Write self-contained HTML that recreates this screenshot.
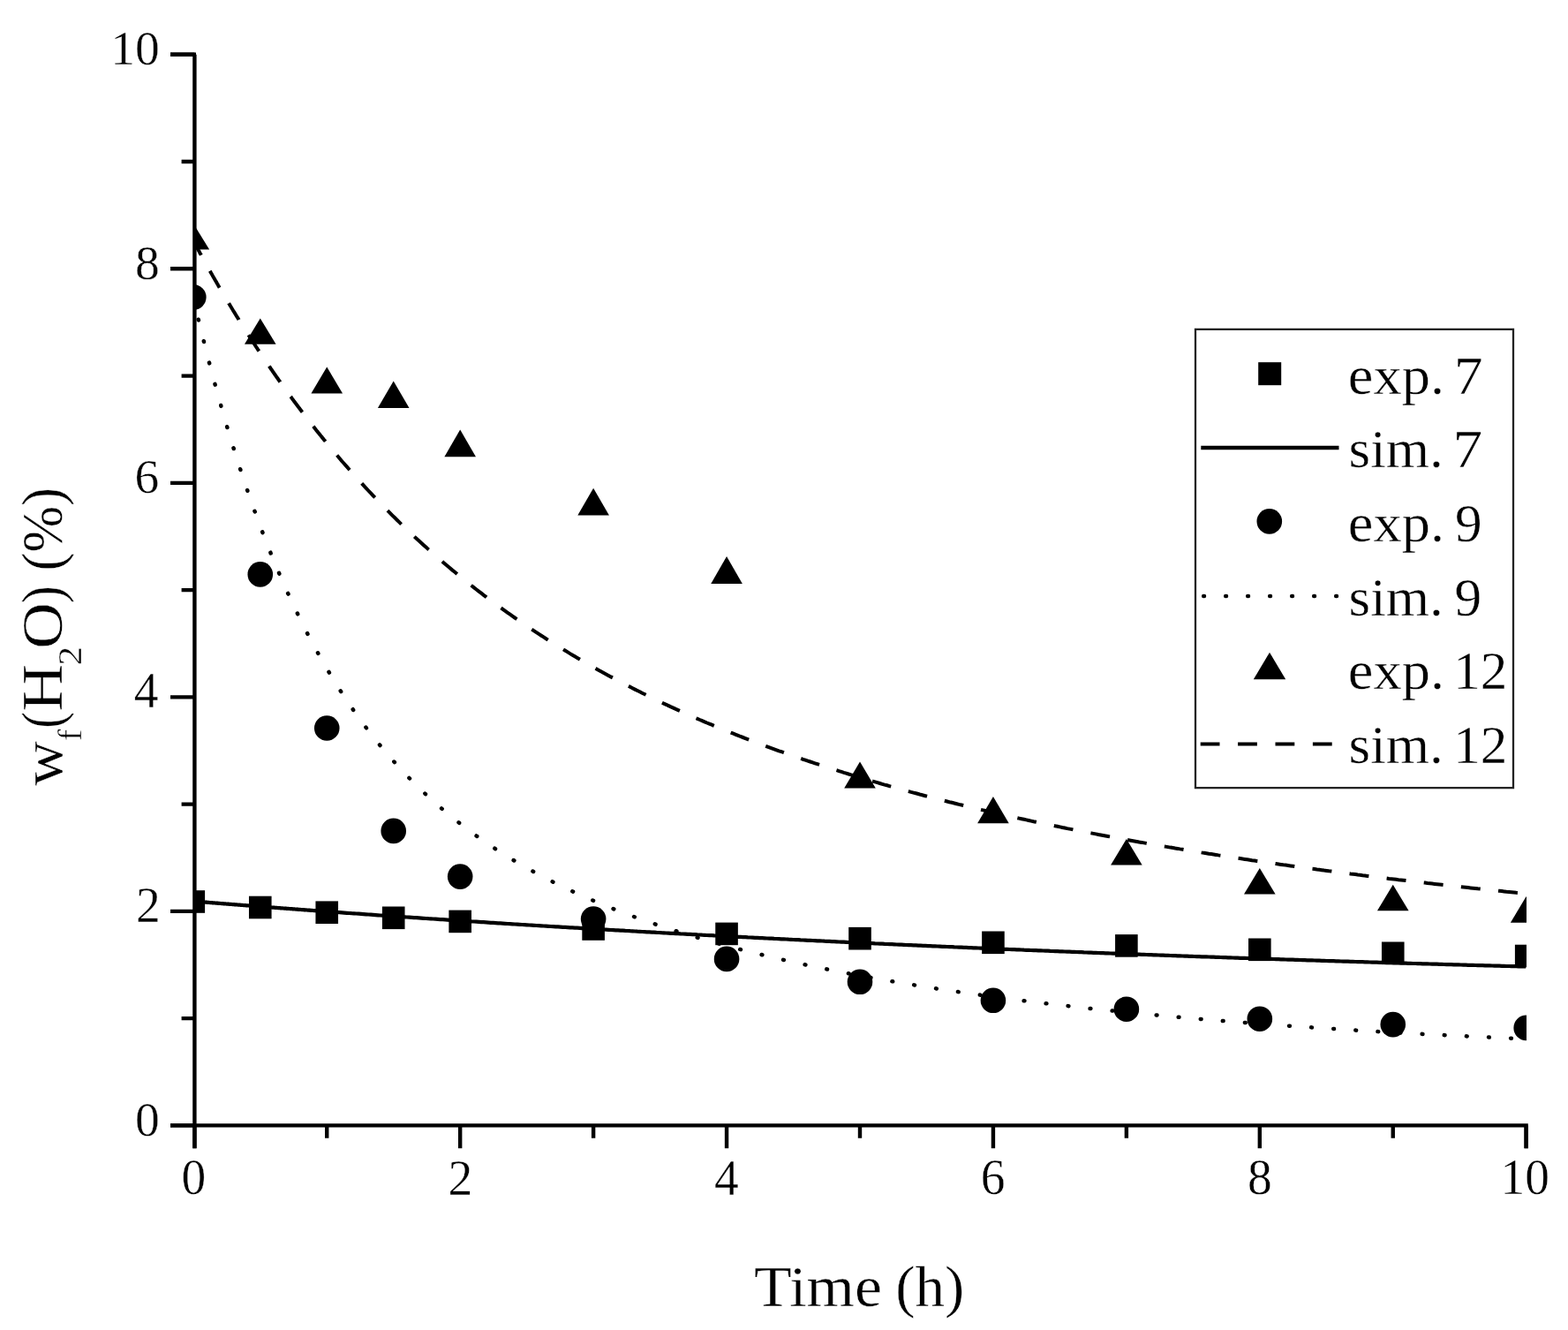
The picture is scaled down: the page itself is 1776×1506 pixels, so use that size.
<!DOCTYPE html>
<html><head><meta charset="utf-8"><title>Water content vs time</title>
<style>html,body{margin:0;padding:0;background:#fff;}svg{display:block;}</style></head>
<body>
<svg width="1776" height="1506" viewBox="0 0 1776 1506" font-family="Liberation Serif, serif" fill="#000">
<style>text{stroke:#fff;stroke-width:0.4px;paint-order:normal;}</style>
<rect width="1776" height="1506" fill="#fff"/>
<defs><clipPath id="pc"><rect x="220.5" y="0" width="1508.5" height="1274.4"/></clipPath></defs>
<path clip-path="url(#pc)" d="M220.2,1020.6 220.6,1020.7 221.0,1020.7 221.3,1020.7 221.7,1020.7 222.1,1020.8 222.5,1020.8 222.8,1020.8 223.2,1020.9 223.6,1020.9 224.0,1020.9 224.4,1021.0 224.7,1021.0 225.1,1021.0 225.5,1021.0 225.9,1021.1 226.2,1021.1 226.6,1021.1 227.0,1021.2 227.4,1021.2 227.8,1021.2 228.1,1021.3 228.5,1021.3 228.9,1021.3 229.3,1021.4 229.6,1021.4 230.0,1021.4 230.4,1021.4 230.8,1021.5 231.2,1021.5 231.5,1021.5 231.9,1021.6 232.3,1021.6 232.7,1021.6 233.1,1021.7 233.4,1021.7 233.8,1021.7 234.2,1021.7 234.6,1021.8 234.9,1021.8 235.3,1021.8 235.7,1021.9 236.1,1021.9 236.5,1021.9 236.8,1022.0 237.2,1022.0 237.6,1022.0 238.0,1022.1 238.3,1022.1 238.7,1022.1 239.1,1022.1 239.5,1022.2 239.9,1022.2 240.2,1022.2 240.6,1022.3 241.0,1022.3 241.4,1022.3 241.7,1022.4 242.1,1022.4 242.5,1022.4 242.9,1022.4 243.3,1022.5 243.6,1022.5 244.0,1022.5 244.4,1022.6 244.8,1022.6 245.1,1022.6 245.5,1022.7 245.9,1022.7 246.3,1022.7 246.7,1022.7 247.0,1022.8 247.4,1022.8 247.8,1022.8 248.2,1022.9 248.5,1022.9 248.9,1022.9 249.3,1023.0 249.7,1023.0 250.1,1023.0 250.4,1023.0 250.8,1023.1 251.2,1023.1 251.6,1023.1 251.9,1023.2 252.3,1023.2 252.7,1023.2 253.1,1023.3 253.5,1023.3 253.8,1023.3 254.2,1023.3 254.6,1023.4 255.0,1023.4 255.3,1023.4 255.7,1023.5 256.1,1023.5 256.5,1023.5 256.9,1023.6 257.2,1023.6 257.6,1023.6 258.0,1023.6 258.4,1023.7 258.8,1023.7 259.1,1023.7 259.5,1023.8 259.9,1023.8 260.3,1023.8 260.6,1023.9 261.0,1023.9 261.4,1023.9 261.8,1023.9 262.2,1024.0 262.5,1024.0 262.9,1024.0 263.3,1024.1 263.7,1024.1 264.0,1024.1 264.4,1024.1 264.8,1024.2 265.2,1024.2 265.6,1024.2 265.9,1024.3 266.3,1024.3 266.7,1024.3 267.1,1024.4 267.4,1024.4 267.8,1024.4 268.2,1024.4 268.6,1024.5 269.0,1024.5 269.3,1024.5 269.7,1024.6 270.1,1024.6 270.5,1024.6 270.8,1024.7 271.2,1024.7 271.6,1024.7 272.0,1024.7 272.4,1024.8 272.7,1024.8 273.1,1024.8 273.5,1024.9 273.9,1024.9 274.2,1024.9 274.6,1024.9 275.0,1025.0 275.4,1025.0 275.8,1025.0 276.1,1025.1 276.5,1025.1 276.9,1025.1 277.3,1025.2 277.6,1025.2 278.0,1025.2 278.4,1025.2 278.8,1025.3 279.2,1025.3 279.5,1025.3 279.9,1025.4 280.3,1025.4 280.7,1025.4 281.0,1025.4 281.4,1025.5 281.8,1025.5 282.2,1025.5 282.6,1025.6 282.9,1025.6 283.3,1025.6 283.7,1025.7 284.1,1025.7 284.5,1025.7 284.8,1025.7 285.2,1025.8 285.6,1025.8 286.0,1025.8 286.3,1025.9 286.7,1025.9 287.1,1025.9 287.5,1025.9 287.9,1026.0 288.2,1026.0 288.6,1026.0 289.0,1026.1 289.4,1026.1 289.7,1026.1 290.1,1026.1 290.5,1026.2 290.9,1026.2 291.3,1026.2 291.6,1026.3 292.0,1026.3 292.4,1026.3 292.8,1026.4 293.1,1026.4 293.5,1026.4 293.9,1026.4 294.3,1026.5 294.7,1026.5 295.0,1026.5 295.4,1026.6 295.8,1026.6 296.2,1026.6 296.5,1026.6 296.9,1026.7 297.3,1026.7 297.7,1026.7 298.1,1026.8 298.4,1026.8 298.8,1026.8 299.2,1026.8 299.6,1026.9 299.9,1026.9 300.3,1026.9 300.7,1027.0 301.1,1027.0 301.5,1027.0 301.8,1027.0 302.2,1027.1 302.6,1027.1 303.0,1027.1 303.3,1027.2 303.7,1027.2 304.1,1027.2 304.5,1027.2 304.9,1027.3 305.2,1027.3 305.6,1027.3 306.0,1027.4 306.4,1027.4 306.7,1027.4 307.1,1027.5 307.5,1027.5 307.9,1027.5 308.3,1027.5 308.6,1027.6 309.0,1027.6 309.4,1027.6 309.8,1027.7 310.2,1027.7 310.5,1027.7 310.9,1027.7 311.3,1027.8 311.7,1027.8 312.0,1027.8 312.4,1027.9 312.8,1027.9 313.2,1027.9 313.6,1027.9 313.9,1028.0 314.3,1028.0 314.7,1028.0 315.1,1028.1 315.4,1028.1 315.8,1028.1 316.2,1028.1 316.6,1028.2 317.0,1028.2 317.3,1028.2 317.7,1028.3 318.1,1028.3 318.5,1028.3 318.8,1028.3 319.2,1028.4 319.6,1028.4 320.0,1028.4 320.4,1028.5 320.7,1028.5 321.1,1028.5 321.5,1028.5 321.9,1028.6 322.2,1028.6 322.6,1028.6 323.0,1028.7 323.4,1028.7 323.8,1028.7 324.1,1028.7 324.5,1028.8 324.9,1028.8 325.3,1028.8 325.6,1028.9 326.0,1028.9 326.4,1028.9 326.8,1028.9 327.2,1029.0 327.5,1029.0 327.9,1029.0 328.3,1029.0 328.7,1029.1 329.0,1029.1 329.4,1029.1 329.8,1029.2 330.2,1029.2 330.6,1029.2 330.9,1029.2 331.3,1029.3 331.7,1029.3 332.1,1029.3 332.4,1029.4 332.8,1029.4 333.2,1029.4 333.6,1029.4 334.0,1029.5 334.3,1029.5 334.7,1029.5 335.1,1029.6 335.5,1029.6 335.9,1029.6 336.2,1029.6 336.6,1029.7 337.0,1029.7 337.4,1029.7 337.7,1029.8 338.1,1029.8 338.5,1029.8 338.9,1029.8 339.3,1029.9 339.6,1029.9 340.0,1029.9 340.4,1030.0 340.8,1030.0 341.1,1030.0 341.5,1030.0 341.9,1030.1 342.3,1030.1 342.7,1030.1 343.0,1030.1 343.4,1030.2 343.8,1030.2 344.2,1030.2 344.5,1030.3 344.9,1030.3 345.3,1030.3 345.7,1030.3 346.1,1030.4 346.4,1030.4 346.8,1030.4 347.2,1030.5 347.6,1030.5 347.9,1030.5 348.3,1030.5 348.7,1030.6 349.1,1030.6 349.5,1030.6 349.8,1030.7 350.2,1030.7 350.6,1030.7 351.0,1030.7 351.3,1030.8 351.7,1030.8 352.1,1030.8 352.5,1030.8 352.9,1030.9 353.2,1030.9 353.6,1030.9 354.0,1031.0 354.4,1031.0 354.7,1031.0 355.1,1031.0 355.5,1031.1 355.9,1031.1 356.3,1031.1 356.6,1031.2 357.0,1031.2 357.4,1031.2 357.8,1031.2 358.1,1031.3 358.5,1031.3 358.9,1031.3 359.3,1031.3 359.7,1031.4 360.0,1031.4 360.4,1031.4 360.8,1031.5 361.2,1031.5 361.6,1031.5 361.9,1031.5 362.3,1031.6 362.7,1031.6 363.1,1031.6 363.4,1031.6 363.8,1031.7 364.2,1031.7 364.6,1031.7 365.0,1031.8 365.3,1031.8 365.7,1031.8 366.1,1031.8 366.5,1031.9 366.8,1031.9 367.2,1031.9 367.6,1032.0 368.0,1032.0 368.4,1032.0 368.7,1032.0 369.1,1032.1 369.5,1032.1 369.9,1032.1 370.2,1032.1 370.6,1032.2 371.0,1032.2 373.7,1032.4 376.4,1032.6 379.2,1032.8 381.9,1033.0 384.6,1033.2 387.3,1033.4 390.0,1033.6 392.8,1033.8 395.5,1034.0 398.2,1034.2 400.9,1034.3 403.6,1034.5 406.4,1034.7 409.1,1034.9 411.8,1035.1 414.5,1035.3 417.2,1035.5 420.0,1035.7 422.7,1035.9 425.4,1036.1 428.1,1036.3 430.8,1036.5 433.6,1036.6 436.3,1036.8 439.0,1037.0 441.7,1037.2 444.4,1037.4 447.2,1037.6 449.9,1037.8 452.6,1038.0 455.3,1038.1 458.0,1038.3 460.8,1038.5 463.5,1038.7 466.2,1038.9 468.9,1039.1 471.6,1039.2 474.4,1039.4 477.1,1039.6 479.8,1039.8 482.5,1040.0 485.2,1040.2 488.0,1040.3 490.7,1040.5 493.4,1040.7 496.1,1040.9 498.8,1041.1 501.6,1041.2 504.3,1041.4 507.0,1041.6 509.7,1041.8 512.4,1042.0 515.2,1042.1 517.9,1042.3 520.6,1042.5 523.3,1042.7 526.0,1042.8 528.8,1043.0 531.5,1043.2 534.2,1043.4 536.9,1043.5 539.6,1043.7 542.3,1043.9 545.1,1044.1 547.8,1044.2 550.5,1044.4 553.2,1044.6 555.9,1044.8 558.7,1044.9 561.4,1045.1 564.1,1045.3 566.8,1045.4 569.5,1045.6 572.3,1045.8 575.0,1046.0 577.7,1046.1 580.4,1046.3 583.1,1046.5 585.9,1046.6 588.6,1046.8 591.3,1047.0 594.0,1047.1 596.7,1047.3 599.5,1047.5 602.2,1047.6 604.9,1047.8 607.6,1048.0 610.3,1048.1 613.1,1048.3 615.8,1048.5 618.5,1048.6 621.2,1048.8 623.9,1049.0 626.7,1049.1 629.4,1049.3 632.1,1049.4 634.8,1049.6 637.5,1049.8 640.3,1049.9 643.0,1050.1 645.7,1050.3 648.4,1050.4 651.1,1050.6 653.9,1050.7 656.6,1050.9 659.3,1051.1 662.0,1051.2 664.7,1051.4 667.5,1051.5 670.2,1051.7 672.9,1051.9 675.6,1052.0 678.3,1052.2 681.1,1052.3 683.8,1052.5 686.5,1052.6 689.2,1052.8 691.9,1053.0 694.7,1053.1 697.4,1053.3 700.1,1053.4 702.8,1053.6 705.5,1053.7 708.3,1053.9 711.0,1054.0 713.7,1054.2 716.4,1054.3 719.1,1054.5 721.9,1054.7 724.6,1054.8 727.3,1055.0 730.0,1055.1 732.7,1055.3 735.5,1055.4 738.2,1055.6 740.9,1055.7 743.6,1055.9 746.3,1056.0 749.1,1056.2 751.8,1056.3 754.5,1056.5 757.2,1056.6 759.9,1056.8 762.7,1056.9 765.4,1057.1 768.1,1057.2 770.8,1057.4 773.5,1057.5 776.3,1057.6 779.0,1057.8 781.7,1057.9 784.4,1058.1 787.1,1058.2 789.9,1058.4 792.6,1058.5 795.3,1058.7 798.0,1058.8 800.7,1059.0 803.5,1059.1 806.2,1059.2 808.9,1059.4 811.6,1059.5 814.3,1059.7 817.1,1059.8 819.8,1060.0 822.5,1060.1 825.2,1060.2 827.9,1060.4 830.7,1060.5 833.4,1060.7 836.1,1060.8 838.8,1060.9 841.5,1061.1 844.3,1061.2 847.0,1061.4 849.7,1061.5 852.4,1061.6 855.1,1061.8 857.9,1061.9 860.6,1062.1 863.3,1062.2 866.0,1062.3 868.7,1062.5 871.5,1062.6 874.2,1062.7 876.9,1062.9 879.6,1063.0 882.3,1063.1 885.0,1063.3 887.8,1063.4 890.5,1063.5 893.2,1063.7 895.9,1063.8 898.6,1064.0 901.4,1064.1 904.1,1064.2 906.8,1064.4 909.5,1064.5 912.2,1064.6 915.0,1064.8 917.7,1064.9 920.4,1065.0 923.1,1065.1 925.8,1065.3 928.6,1065.4 931.3,1065.5 934.0,1065.7 936.7,1065.8 939.4,1065.9 942.2,1066.1 944.9,1066.2 947.6,1066.3 950.3,1066.5 953.0,1066.6 955.8,1066.7 958.5,1066.8 961.2,1067.0 963.9,1067.1 966.6,1067.2 969.4,1067.3 972.1,1067.5 974.8,1067.6 977.5,1067.7 980.2,1067.9 983.0,1068.0 985.7,1068.1 988.4,1068.2 991.1,1068.4 993.8,1068.5 996.6,1068.6 999.3,1068.7 1002.0,1068.9 1004.7,1069.0 1007.4,1069.1 1010.2,1069.2 1012.9,1069.3 1015.6,1069.5 1018.3,1069.6 1021.0,1069.7 1023.8,1069.8 1026.5,1070.0 1029.2,1070.1 1031.9,1070.2 1034.6,1070.3 1037.4,1070.4 1040.1,1070.6 1042.8,1070.7 1045.5,1070.8 1048.2,1070.9 1051.0,1071.1 1053.7,1071.2 1056.4,1071.3 1059.1,1071.4 1061.8,1071.5 1064.6,1071.6 1067.3,1071.8 1070.0,1071.9 1072.7,1072.0 1075.4,1072.1 1078.2,1072.2 1080.9,1072.4 1083.6,1072.5 1086.3,1072.6 1089.0,1072.7 1091.8,1072.8 1094.5,1072.9 1097.2,1073.1 1099.9,1073.2 1102.6,1073.3 1105.4,1073.4 1108.1,1073.5 1110.8,1073.6 1113.5,1073.7 1116.2,1073.9 1119.0,1074.0 1121.7,1074.1 1124.4,1074.2 1127.1,1074.3 1129.8,1074.4 1132.6,1074.5 1135.3,1074.7 1138.0,1074.8 1140.7,1074.9 1143.4,1075.0 1146.2,1075.1 1148.9,1075.2 1151.6,1075.3 1154.3,1075.4 1157.0,1075.5 1159.8,1075.7 1162.5,1075.8 1165.2,1075.9 1167.9,1076.0 1170.6,1076.1 1173.4,1076.2 1176.1,1076.3 1178.8,1076.4 1181.5,1076.5 1184.2,1076.6 1187.0,1076.7 1189.7,1076.9 1192.4,1077.0 1195.1,1077.1 1197.8,1077.2 1200.6,1077.3 1203.3,1077.4 1206.0,1077.5 1208.7,1077.6 1211.4,1077.7 1214.2,1077.8 1216.9,1077.9 1219.6,1078.0 1222.3,1078.1 1225.0,1078.2 1227.7,1078.4 1230.5,1078.5 1233.2,1078.6 1235.9,1078.7 1238.6,1078.8 1241.3,1078.9 1244.1,1079.0 1246.8,1079.1 1249.5,1079.2 1252.2,1079.3 1254.9,1079.4 1257.7,1079.5 1260.4,1079.6 1263.1,1079.7 1265.8,1079.8 1268.5,1079.9 1271.3,1080.0 1274.0,1080.1 1276.7,1080.2 1279.4,1080.3 1282.1,1080.4 1284.9,1080.5 1287.6,1080.6 1290.3,1080.7 1293.0,1080.8 1295.7,1080.9 1298.5,1081.0 1301.2,1081.1 1303.9,1081.2 1306.6,1081.3 1309.3,1081.4 1312.1,1081.5 1314.8,1081.6 1317.5,1081.7 1320.2,1081.8 1322.9,1081.9 1325.7,1082.0 1328.4,1082.1 1331.1,1082.2 1333.8,1082.3 1336.5,1082.4 1339.3,1082.5 1342.0,1082.6 1344.7,1082.7 1347.4,1082.8 1350.1,1082.9 1352.9,1083.0 1355.6,1083.1 1358.3,1083.2 1361.0,1083.3 1363.7,1083.4 1366.5,1083.4 1369.2,1083.5 1371.9,1083.6 1374.6,1083.7 1377.3,1083.8 1380.1,1083.9 1382.8,1084.0 1385.5,1084.1 1388.2,1084.2 1390.9,1084.3 1393.7,1084.4 1396.4,1084.5 1399.1,1084.6 1401.8,1084.7 1404.5,1084.8 1407.3,1084.9 1410.0,1084.9 1412.7,1085.0 1415.4,1085.1 1418.1,1085.2 1420.9,1085.3 1423.6,1085.4 1426.3,1085.5 1429.0,1085.6 1431.7,1085.7 1434.5,1085.8 1437.2,1085.9 1439.9,1085.9 1442.6,1086.0 1445.3,1086.1 1448.1,1086.2 1450.8,1086.3 1453.5,1086.4 1456.2,1086.5 1458.9,1086.6 1461.7,1086.7 1464.4,1086.7 1467.1,1086.8 1469.8,1086.9 1472.5,1087.0 1475.3,1087.1 1478.0,1087.2 1480.7,1087.3 1483.4,1087.4 1486.1,1087.4 1488.9,1087.5 1491.6,1087.6 1494.3,1087.7 1497.0,1087.8 1499.7,1087.9 1502.5,1088.0 1505.2,1088.1 1507.9,1088.1 1510.6,1088.2 1513.3,1088.3 1516.1,1088.4 1518.8,1088.5 1521.5,1088.6 1524.2,1088.7 1526.9,1088.7 1529.7,1088.8 1532.4,1088.9 1535.1,1089.0 1537.8,1089.1 1540.5,1089.2 1543.3,1089.2 1546.0,1089.3 1548.7,1089.4 1551.4,1089.5 1554.1,1089.6 1556.9,1089.7 1559.6,1089.7 1562.3,1089.8 1565.0,1089.9 1567.7,1090.0 1570.4,1090.1 1573.2,1090.1 1575.9,1090.2 1578.6,1090.3 1581.3,1090.4 1584.0,1090.5 1586.8,1090.6 1589.5,1090.6 1592.2,1090.7 1594.9,1090.8 1597.6,1090.9 1600.4,1091.0 1603.1,1091.0 1605.8,1091.1 1608.5,1091.2 1611.2,1091.3 1614.0,1091.4 1616.7,1091.4 1619.4,1091.5 1622.1,1091.6 1624.8,1091.7 1627.6,1091.7 1630.3,1091.8 1633.0,1091.9 1635.7,1092.0 1638.4,1092.1 1641.2,1092.1 1643.9,1092.2 1646.6,1092.3 1649.3,1092.4 1652.0,1092.4 1654.8,1092.5 1657.5,1092.6 1660.2,1092.7 1662.9,1092.8 1665.6,1092.8 1668.4,1092.9 1671.1,1093.0 1673.8,1093.1 1676.5,1093.1 1679.2,1093.2 1682.0,1093.3 1684.7,1093.4 1687.4,1093.4 1690.1,1093.5 1692.8,1093.6 1695.6,1093.7 1698.3,1093.7 1701.0,1093.8 1703.7,1093.9 1706.4,1094.0 1709.2,1094.0 1711.9,1094.1 1714.6,1094.2 1717.3,1094.2 1720.0,1094.3 1722.8,1094.4 1725.5,1094.5 1728.2,1094.5" fill="none" stroke="#000" stroke-width="4.2"/>
<path clip-path="url(#pc)" d="M220.2,342.5 220.6,344.1 221.0,345.7 221.3,347.3 221.7,348.9 222.1,350.5 222.5,352.1 222.8,353.7 223.2,355.3 223.6,356.9 224.0,358.5 224.4,360.0 224.7,361.6 225.1,363.2 225.5,364.7 225.9,366.3 226.2,367.9 226.6,369.4 227.0,371.0 227.4,372.5 227.8,374.1 228.1,375.6 228.5,377.1 228.9,378.7 229.3,380.2 229.6,381.7 230.0,383.2 230.4,384.7 230.8,386.2 231.2,387.8 231.5,389.3 231.9,390.8 232.3,392.3 232.7,393.8 233.1,395.2 233.4,396.7 233.8,398.2 234.2,399.7 234.6,401.2 234.9,402.6 235.3,404.1 235.7,405.6 236.1,407.0 236.5,408.5 236.8,409.9 237.2,411.4 237.6,412.8 238.0,414.3 238.3,415.7 238.7,417.2 239.1,418.6 239.5,420.0 239.9,421.4 240.2,422.9 240.6,424.3 241.0,425.7 241.4,427.1 241.7,428.5 242.1,429.9 242.5,431.3 242.9,432.7 243.3,434.1 243.6,435.5 244.0,436.9 244.4,438.3 244.8,439.7 245.1,441.0 245.5,442.4 245.9,443.8 246.3,445.1 246.7,446.5 247.0,447.9 247.4,449.2 247.8,450.6 248.2,451.9 248.5,453.3 248.9,454.6 249.3,456.0 249.7,457.3 250.1,458.6 250.4,460.0 250.8,461.3 251.2,462.6 251.6,463.9 251.9,465.3 252.3,466.6 252.7,467.9 253.1,469.2 253.5,470.5 253.8,471.8 254.2,473.1 254.6,474.4 255.0,475.7 255.3,477.0 255.7,478.3 256.1,479.5 256.5,480.8 256.9,482.1 257.2,483.4 257.6,484.7 258.0,485.9 258.4,487.2 258.8,488.4 259.1,489.7 259.5,491.0 259.9,492.2 260.3,493.5 260.6,494.7 261.0,496.0 261.4,497.2 261.8,498.4 262.2,499.7 262.5,500.9 262.9,502.1 263.3,503.4 263.7,504.6 264.0,505.8 264.4,507.0 264.8,508.2 265.2,509.4 265.6,510.7 265.9,511.9 266.3,513.1 266.7,514.3 267.1,515.5 267.4,516.7 267.8,517.9 268.2,519.0 268.6,520.2 269.0,521.4 269.3,522.6 269.7,523.8 270.1,524.9 270.5,526.1 270.8,527.3 271.2,528.4 271.6,529.6 272.0,530.8 272.4,531.9 272.7,533.1 273.1,534.2 273.5,535.4 273.9,536.5 274.2,537.7 274.6,538.8 275.0,540.0 275.4,541.1 275.8,542.2 276.1,543.4 276.5,544.5 276.9,545.6 277.3,546.7 277.6,547.9 278.0,549.0 278.4,550.1 278.8,551.2 279.2,552.3 279.5,553.4 279.9,554.5 280.3,555.6 280.7,556.7 281.0,557.8 281.4,558.9 281.8,560.0 282.2,561.1 282.6,562.2 282.9,563.3 283.3,564.3 283.7,565.4 284.1,566.5 284.5,567.6 284.8,568.6 285.2,569.7 285.6,570.8 286.0,571.8 286.3,572.9 286.7,574.0 287.1,575.0 287.5,576.1 287.9,577.1 288.2,578.2 288.6,579.2 289.0,580.2 289.4,581.3 289.7,582.3 290.1,583.4 290.5,584.4 290.9,585.4 291.3,586.5 291.6,587.5 292.0,588.5 292.4,589.5 292.8,590.5 293.1,591.6 293.5,592.6 293.9,593.6 294.3,594.6 294.7,595.6 295.0,596.6 295.4,597.6 295.8,598.6 296.2,599.6 296.5,600.6 296.9,601.6 297.3,602.6 297.7,603.6 298.1,604.6 298.4,605.6 298.8,606.5 299.2,607.5 299.6,608.5 299.9,609.5 300.3,610.4 300.7,611.4 301.1,612.4 301.5,613.3 301.8,614.3 302.2,615.3 302.6,616.2 303.0,617.2 303.3,618.1 303.7,619.1 304.1,620.0 304.5,621.0 304.9,621.9 305.2,622.9 305.6,623.8 306.0,624.8 306.4,625.7 306.7,626.6 307.1,627.6 307.5,628.5 307.9,629.4 308.3,630.4 308.6,631.3 309.0,632.2 309.4,633.1 309.8,634.0 310.2,635.0 310.5,635.9 310.9,636.8 311.3,637.7 311.7,638.6 312.0,639.5 312.4,640.4 312.8,641.3 313.2,642.2 313.6,643.1 313.9,644.0 314.3,644.9 314.7,645.8 315.1,646.7 315.4,647.6 315.8,648.4 316.2,649.3 316.6,650.2 317.0,651.1 317.3,652.0 317.7,652.8 318.1,653.7 318.5,654.6 318.8,655.4 319.2,656.3 319.6,657.2 320.0,658.0 320.4,658.9 320.7,659.8 321.1,660.6 321.5,661.5 321.9,662.3 322.2,663.2 322.6,664.0 323.0,664.9 323.4,665.7 323.8,666.6 324.1,667.4 324.5,668.2 324.9,669.1 325.3,669.9 325.6,670.8 326.0,671.6 326.4,672.4 326.8,673.2 327.2,674.1 327.5,674.9 327.9,675.7 328.3,676.5 328.7,677.4 329.0,678.2 329.4,679.0 329.8,679.8 330.2,680.6 330.6,681.4 330.9,682.2 331.3,683.0 331.7,683.8 332.1,684.6 332.4,685.4 332.8,686.2 333.2,687.0 333.6,687.8 334.0,688.6 334.3,689.4 334.7,690.2 335.1,691.0 335.5,691.8 335.9,692.6 336.2,693.4 336.6,694.1 337.0,694.9 337.4,695.7 337.7,696.5 338.1,697.2 338.5,698.0 338.9,698.8 339.3,699.6 339.6,700.3 340.0,701.1 340.4,701.9 340.8,702.6 341.1,703.4 341.5,704.1 341.9,704.9 342.3,705.6 342.7,706.4 343.0,707.2 343.4,707.9 343.8,708.6 344.2,709.4 344.5,710.1 344.9,710.9 345.3,711.6 345.7,712.4 346.1,713.1 346.4,713.8 346.8,714.6 347.2,715.3 347.6,716.0 347.9,716.8 348.3,717.5 348.7,718.2 349.1,719.0 349.5,719.7 349.8,720.4 350.2,721.1 350.6,721.8 351.0,722.6 351.3,723.3 351.7,724.0 352.1,724.7 352.5,725.4 352.9,726.1 353.2,726.8 353.6,727.5 354.0,728.2 354.4,729.0 354.7,729.7 355.1,730.4 355.5,731.1 355.9,731.8 356.3,732.4 356.6,733.1 357.0,733.8 357.4,734.5 357.8,735.2 358.1,735.9 358.5,736.6 358.9,737.3 359.3,738.0 359.7,738.6 360.0,739.3 360.4,740.0 360.8,740.7 361.2,741.4 361.6,742.0 361.9,742.7 362.3,743.4 362.7,744.0 363.1,744.7 363.4,745.4 363.8,746.1 364.2,746.7 364.6,747.4 365.0,748.0 365.3,748.7 365.7,749.4 366.1,750.0 366.5,750.7 366.8,751.3 367.2,752.0 367.6,752.6 368.0,753.3 368.4,753.9 368.7,754.6 369.1,755.2 369.5,755.9 369.9,756.5 370.2,757.2 370.6,757.8 371.0,758.4 373.7,763.0 376.4,767.5 379.2,771.9 381.9,776.3 384.6,780.6 387.3,784.8 390.0,788.9 392.8,793.0 395.5,797.1 398.2,801.0 400.9,805.0 403.6,808.8 406.4,812.6 409.1,816.4 411.8,820.1 414.5,823.7 417.2,827.3 420.0,830.8 422.7,834.3 425.4,837.7 428.1,841.1 430.8,844.4 433.6,847.7 436.3,851.0 439.0,854.1 441.7,857.3 444.4,860.4 447.2,863.5 449.9,866.5 452.6,869.5 455.3,872.4 458.0,875.3 460.8,878.1 463.5,881.0 466.2,883.7 468.9,886.5 471.6,889.2 474.4,891.8 477.1,894.5 479.8,897.1 482.5,899.6 485.2,902.2 488.0,904.7 490.7,907.1 493.4,909.6 496.1,911.9 498.8,914.3 501.6,916.7 504.3,919.0 507.0,921.2 509.7,923.5 512.4,925.7 515.2,927.9 517.9,930.1 520.6,932.2 523.3,934.3 526.0,936.4 528.8,938.5 531.5,940.5 534.2,942.5 536.9,944.5 539.6,946.5 542.3,948.4 545.1,950.3 547.8,952.2 550.5,954.1 553.2,956.0 555.9,957.8 558.7,959.6 561.4,961.4 564.1,963.1 566.8,964.9 569.5,966.6 572.3,968.3 575.0,970.0 577.7,971.7 580.4,973.3 583.1,974.9 585.9,976.6 588.6,978.2 591.3,979.7 594.0,981.3 596.7,982.8 599.5,984.4 602.2,985.9 604.9,987.4 607.6,988.8 610.3,990.3 613.1,991.8 615.8,993.2 618.5,994.6 621.2,996.0 623.9,997.4 626.7,998.8 629.4,1000.1 632.1,1001.5 634.8,1002.8 637.5,1004.1 640.3,1005.4 643.0,1006.7 645.7,1008.0 648.4,1009.3 651.1,1010.5 653.9,1011.8 656.6,1013.0 659.3,1014.2 662.0,1015.4 664.7,1016.6 667.5,1017.8 670.2,1019.0 672.9,1020.2 675.6,1021.3 678.3,1022.4 681.1,1023.6 683.8,1024.7 686.5,1025.8 689.2,1026.9 691.9,1028.0 694.7,1029.1 697.4,1030.1 700.1,1031.2 702.8,1032.2 705.5,1033.3 708.3,1034.3 711.0,1035.3 713.7,1036.4 716.4,1037.4 719.1,1038.4 721.9,1039.3 724.6,1040.3 727.3,1041.3 730.0,1042.3 732.7,1043.2 735.5,1044.2 738.2,1045.1 740.9,1046.0 743.6,1047.0 746.3,1047.9 749.1,1048.8 751.8,1049.7 754.5,1050.6 757.2,1051.5 759.9,1052.3 762.7,1053.2 765.4,1054.1 768.1,1054.9 770.8,1055.8 773.5,1056.6 776.3,1057.5 779.0,1058.3 781.7,1059.1 784.4,1059.9 787.1,1060.8 789.9,1061.6 792.6,1062.4 795.3,1063.2 798.0,1063.9 800.7,1064.7 803.5,1065.5 806.2,1066.3 808.9,1067.0 811.6,1067.8 814.3,1068.5 817.1,1069.3 819.8,1070.0 822.5,1070.8 825.2,1071.5 827.9,1072.2 830.7,1072.9 833.4,1073.7 836.1,1074.4 838.8,1075.1 841.5,1075.8 844.3,1076.5 847.0,1077.2 849.7,1077.8 852.4,1078.5 855.1,1079.2 857.9,1079.9 860.6,1080.5 863.3,1081.2 866.0,1081.9 868.7,1082.5 871.5,1083.2 874.2,1083.8 876.9,1084.4 879.6,1085.1 882.3,1085.7 885.0,1086.3 887.8,1087.0 890.5,1087.6 893.2,1088.2 895.9,1088.8 898.6,1089.4 901.4,1090.0 904.1,1090.6 906.8,1091.2 909.5,1091.8 912.2,1092.4 915.0,1093.0 917.7,1093.5 920.4,1094.1 923.1,1094.7 925.8,1095.2 928.6,1095.8 931.3,1096.4 934.0,1096.9 936.7,1097.5 939.4,1098.0 942.2,1098.6 944.9,1099.1 947.6,1099.7 950.3,1100.2 953.0,1100.7 955.8,1101.3 958.5,1101.8 961.2,1102.3 963.9,1102.8 966.6,1103.3 969.4,1103.9 972.1,1104.4 974.8,1104.9 977.5,1105.4 980.2,1105.9 983.0,1106.4 985.7,1106.9 988.4,1107.4 991.1,1107.8 993.8,1108.3 996.6,1108.8 999.3,1109.3 1002.0,1109.8 1004.7,1110.2 1007.4,1110.7 1010.2,1111.2 1012.9,1111.6 1015.6,1112.1 1018.3,1112.6 1021.0,1113.0 1023.8,1113.5 1026.5,1113.9 1029.2,1114.4 1031.9,1114.8 1034.6,1115.3 1037.4,1115.7 1040.1,1116.2 1042.8,1116.6 1045.5,1117.0 1048.2,1117.5 1051.0,1117.9 1053.7,1118.3 1056.4,1118.7 1059.1,1119.2 1061.8,1119.6 1064.6,1120.0 1067.3,1120.4 1070.0,1120.8 1072.7,1121.2 1075.4,1121.6 1078.2,1122.0 1080.9,1122.4 1083.6,1122.8 1086.3,1123.2 1089.0,1123.6 1091.8,1124.0 1094.5,1124.4 1097.2,1124.8 1099.9,1125.2 1102.6,1125.6 1105.4,1126.0 1108.1,1126.4 1110.8,1126.7 1113.5,1127.1 1116.2,1127.5 1119.0,1127.9 1121.7,1128.2 1124.4,1128.6 1127.1,1129.0 1129.8,1129.3 1132.6,1129.7 1135.3,1130.0 1138.0,1130.4 1140.7,1130.8 1143.4,1131.1 1146.2,1131.5 1148.9,1131.8 1151.6,1132.2 1154.3,1132.5 1157.0,1132.8 1159.8,1133.2 1162.5,1133.5 1165.2,1133.9 1167.9,1134.2 1170.6,1134.5 1173.4,1134.9 1176.1,1135.2 1178.8,1135.5 1181.5,1135.9 1184.2,1136.2 1187.0,1136.5 1189.7,1136.8 1192.4,1137.2 1195.1,1137.5 1197.8,1137.8 1200.6,1138.1 1203.3,1138.4 1206.0,1138.7 1208.7,1139.0 1211.4,1139.4 1214.2,1139.7 1216.9,1140.0 1219.6,1140.3 1222.3,1140.6 1225.0,1140.9 1227.7,1141.2 1230.5,1141.5 1233.2,1141.8 1235.9,1142.1 1238.6,1142.4 1241.3,1142.6 1244.1,1142.9 1246.8,1143.2 1249.5,1143.5 1252.2,1143.8 1254.9,1144.1 1257.7,1144.4 1260.4,1144.6 1263.1,1144.9 1265.8,1145.2 1268.5,1145.5 1271.3,1145.7 1274.0,1146.0 1276.7,1146.3 1279.4,1146.6 1282.1,1146.8 1284.9,1147.1 1287.6,1147.4 1290.3,1147.6 1293.0,1147.9 1295.7,1148.2 1298.5,1148.4 1301.2,1148.7 1303.9,1148.9 1306.6,1149.2 1309.3,1149.4 1312.1,1149.7 1314.8,1149.9 1317.5,1150.2 1320.2,1150.4 1322.9,1150.7 1325.7,1150.9 1328.4,1151.2 1331.1,1151.4 1333.8,1151.7 1336.5,1151.9 1339.3,1152.2 1342.0,1152.4 1344.7,1152.6 1347.4,1152.9 1350.1,1153.1 1352.9,1153.3 1355.6,1153.6 1358.3,1153.8 1361.0,1154.0 1363.7,1154.3 1366.5,1154.5 1369.2,1154.7 1371.9,1154.9 1374.6,1155.2 1377.3,1155.4 1380.1,1155.6 1382.8,1155.8 1385.5,1156.1 1388.2,1156.3 1390.9,1156.5 1393.7,1156.7 1396.4,1156.9 1399.1,1157.1 1401.8,1157.4 1404.5,1157.6 1407.3,1157.8 1410.0,1158.0 1412.7,1158.2 1415.4,1158.4 1418.1,1158.6 1420.9,1158.8 1423.6,1159.0 1426.3,1159.2 1429.0,1159.4 1431.7,1159.6 1434.5,1159.8 1437.2,1160.0 1439.9,1160.2 1442.6,1160.4 1445.3,1160.6 1448.1,1160.8 1450.8,1161.0 1453.5,1161.2 1456.2,1161.4 1458.9,1161.6 1461.7,1161.8 1464.4,1162.0 1467.1,1162.2 1469.8,1162.3 1472.5,1162.5 1475.3,1162.7 1478.0,1162.9 1480.7,1163.1 1483.4,1163.3 1486.1,1163.4 1488.9,1163.6 1491.6,1163.8 1494.3,1164.0 1497.0,1164.2 1499.7,1164.3 1502.5,1164.5 1505.2,1164.7 1507.9,1164.9 1510.6,1165.0 1513.3,1165.2 1516.1,1165.4 1518.8,1165.6 1521.5,1165.7 1524.2,1165.9 1526.9,1166.1 1529.7,1166.2 1532.4,1166.4 1535.1,1166.6 1537.8,1166.7 1540.5,1166.9 1543.3,1167.1 1546.0,1167.2 1548.7,1167.4 1551.4,1167.5 1554.1,1167.7 1556.9,1167.9 1559.6,1168.0 1562.3,1168.2 1565.0,1168.3 1567.7,1168.5 1570.4,1168.6 1573.2,1168.8 1575.9,1168.9 1578.6,1169.1 1581.3,1169.3 1584.0,1169.4 1586.8,1169.6 1589.5,1169.7 1592.2,1169.8 1594.9,1170.0 1597.6,1170.1 1600.4,1170.3 1603.1,1170.4 1605.8,1170.6 1608.5,1170.7 1611.2,1170.9 1614.0,1171.0 1616.7,1171.2 1619.4,1171.3 1622.1,1171.4 1624.8,1171.6 1627.6,1171.7 1630.3,1171.9 1633.0,1172.0 1635.7,1172.1 1638.4,1172.3 1641.2,1172.4 1643.9,1172.5 1646.6,1172.7 1649.3,1172.8 1652.0,1172.9 1654.8,1173.1 1657.5,1173.2 1660.2,1173.3 1662.9,1173.5 1665.6,1173.6 1668.4,1173.7 1671.1,1173.8 1673.8,1174.0 1676.5,1174.1 1679.2,1174.2 1682.0,1174.3 1684.7,1174.5 1687.4,1174.6 1690.1,1174.7 1692.8,1174.8 1695.6,1175.0 1698.3,1175.1 1701.0,1175.2 1703.7,1175.3 1706.4,1175.4 1709.2,1175.6 1711.9,1175.7 1714.6,1175.8 1717.3,1175.9 1720.0,1176.0 1722.8,1176.2 1725.5,1176.3 1728.2,1176.4" fill="none" stroke="#000" stroke-width="4.5" stroke-linecap="round" stroke-dasharray="0.8 24.35" stroke-dashoffset="5.33"/>
<path clip-path="url(#pc)" d="M220.2,274.8 220.6,275.5 221.0,276.2 221.3,276.9 221.7,277.6 222.1,278.3 222.5,279.0 222.8,279.7 223.2,280.4 223.6,281.1 224.0,281.8 224.4,282.5 224.7,283.2 225.1,283.9 225.5,284.6 225.9,285.3 226.2,286.0 226.6,286.7 227.0,287.4 227.4,288.1 227.8,288.8 228.1,289.4 228.5,290.1 228.9,290.8 229.3,291.5 229.6,292.2 230.0,292.9 230.4,293.6 230.8,294.2 231.2,294.9 231.5,295.6 231.9,296.3 232.3,297.0 232.7,297.6 233.1,298.3 233.4,299.0 233.8,299.7 234.2,300.4 234.6,301.0 234.9,301.7 235.3,302.4 235.7,303.1 236.1,303.7 236.5,304.4 236.8,305.1 237.2,305.7 237.6,306.4 238.0,307.1 238.3,307.7 238.7,308.4 239.1,309.1 239.5,309.7 239.9,310.4 240.2,311.1 240.6,311.7 241.0,312.4 241.4,313.1 241.7,313.7 242.1,314.4 242.5,315.0 242.9,315.7 243.3,316.4 243.6,317.0 244.0,317.7 244.4,318.3 244.8,319.0 245.1,319.6 245.5,320.3 245.9,321.0 246.3,321.6 246.7,322.3 247.0,322.9 247.4,323.6 247.8,324.2 248.2,324.9 248.5,325.5 248.9,326.2 249.3,326.8 249.7,327.4 250.1,328.1 250.4,328.7 250.8,329.4 251.2,330.0 251.6,330.7 251.9,331.3 252.3,332.0 252.7,332.6 253.1,333.2 253.5,333.9 253.8,334.5 254.2,335.2 254.6,335.8 255.0,336.4 255.3,337.1 255.7,337.7 256.1,338.3 256.5,339.0 256.9,339.6 257.2,340.2 257.6,340.9 258.0,341.5 258.4,342.1 258.8,342.8 259.1,343.4 259.5,344.0 259.9,344.6 260.3,345.3 260.6,345.9 261.0,346.5 261.4,347.1 261.8,347.8 262.2,348.4 262.5,349.0 262.9,349.6 263.3,350.3 263.7,350.9 264.0,351.5 264.4,352.1 264.8,352.7 265.2,353.4 265.6,354.0 265.9,354.6 266.3,355.2 266.7,355.8 267.1,356.4 267.4,357.1 267.8,357.7 268.2,358.3 268.6,358.9 269.0,359.5 269.3,360.1 269.7,360.7 270.1,361.3 270.5,361.9 270.8,362.6 271.2,363.2 271.6,363.8 272.0,364.4 272.4,365.0 272.7,365.6 273.1,366.2 273.5,366.8 273.9,367.4 274.2,368.0 274.6,368.6 275.0,369.2 275.4,369.8 275.8,370.4 276.1,371.0 276.5,371.6 276.9,372.2 277.3,372.8 277.6,373.4 278.0,374.0 278.4,374.6 278.8,375.2 279.2,375.8 279.5,376.4 279.9,377.0 280.3,377.5 280.7,378.1 281.0,378.7 281.4,379.3 281.8,379.9 282.2,380.5 282.6,381.1 282.9,381.7 283.3,382.3 283.7,382.8 284.1,383.4 284.5,384.0 284.8,384.6 285.2,385.2 285.6,385.8 286.0,386.3 286.3,386.9 286.7,387.5 287.1,388.1 287.5,388.7 287.9,389.3 288.2,389.8 288.6,390.4 289.0,391.0 289.4,391.6 289.7,392.1 290.1,392.7 290.5,393.3 290.9,393.9 291.3,394.4 291.6,395.0 292.0,395.6 292.4,396.2 292.8,396.7 293.1,397.3 293.5,397.9 293.9,398.4 294.3,399.0 294.7,399.6 295.0,400.1 295.4,400.7 295.8,401.3 296.2,401.8 296.5,402.4 296.9,403.0 297.3,403.5 297.7,404.1 298.1,404.7 298.4,405.2 298.8,405.8 299.2,406.3 299.6,406.9 299.9,407.5 300.3,408.0 300.7,408.6 301.1,409.1 301.5,409.7 301.8,410.3 302.2,410.8 302.6,411.4 303.0,411.9 303.3,412.5 303.7,413.0 304.1,413.6 304.5,414.1 304.9,414.7 305.2,415.2 305.6,415.8 306.0,416.3 306.4,416.9 306.7,417.4 307.1,418.0 307.5,418.5 307.9,419.1 308.3,419.6 308.6,420.2 309.0,420.7 309.4,421.3 309.8,421.8 310.2,422.4 310.5,422.9 310.9,423.4 311.3,424.0 311.7,424.5 312.0,425.1 312.4,425.6 312.8,426.1 313.2,426.7 313.6,427.2 313.9,427.8 314.3,428.3 314.7,428.8 315.1,429.4 315.4,429.9 315.8,430.4 316.2,431.0 316.6,431.5 317.0,432.0 317.3,432.6 317.7,433.1 318.1,433.6 318.5,434.2 318.8,434.7 319.2,435.2 319.6,435.8 320.0,436.3 320.4,436.8 320.7,437.3 321.1,437.9 321.5,438.4 321.9,438.9 322.2,439.5 322.6,440.0 323.0,440.5 323.4,441.0 323.8,441.5 324.1,442.1 324.5,442.6 324.9,443.1 325.3,443.6 325.6,444.2 326.0,444.7 326.4,445.2 326.8,445.7 327.2,446.2 327.5,446.8 327.9,447.3 328.3,447.8 328.7,448.3 329.0,448.8 329.4,449.3 329.8,449.8 330.2,450.4 330.6,450.9 330.9,451.4 331.3,451.9 331.7,452.4 332.1,452.9 332.4,453.4 332.8,453.9 333.2,454.5 333.6,455.0 334.0,455.5 334.3,456.0 334.7,456.5 335.1,457.0 335.5,457.5 335.9,458.0 336.2,458.5 336.6,459.0 337.0,459.5 337.4,460.0 337.7,460.5 338.1,461.0 338.5,461.5 338.9,462.0 339.3,462.5 339.6,463.0 340.0,463.5 340.4,464.0 340.8,464.5 341.1,465.0 341.5,465.5 341.9,466.0 342.3,466.5 342.7,467.0 343.0,467.5 343.4,468.0 343.8,468.5 344.2,469.0 344.5,469.5 344.9,470.0 345.3,470.5 345.7,471.0 346.1,471.5 346.4,472.0 346.8,472.4 347.2,472.9 347.6,473.4 347.9,473.9 348.3,474.4 348.7,474.9 349.1,475.4 349.5,475.9 349.8,476.4 350.2,476.8 350.6,477.3 351.0,477.8 351.3,478.3 351.7,478.8 352.1,479.3 352.5,479.7 352.9,480.2 353.2,480.7 353.6,481.2 354.0,481.7 354.4,482.2 354.7,482.6 355.1,483.1 355.5,483.6 355.9,484.1 356.3,484.5 356.6,485.0 357.0,485.5 357.4,486.0 357.8,486.5 358.1,486.9 358.5,487.4 358.9,487.9 359.3,488.4 359.7,488.8 360.0,489.3 360.4,489.8 360.8,490.2 361.2,490.7 361.6,491.2 361.9,491.7 362.3,492.1 362.7,492.6 363.1,493.1 363.4,493.5 363.8,494.0 364.2,494.5 364.6,494.9 365.0,495.4 365.3,495.9 365.7,496.3 366.1,496.8 366.5,497.3 366.8,497.7 367.2,498.2 367.6,498.7 368.0,499.1 368.4,499.6 368.7,500.0 369.1,500.5 369.5,501.0 369.9,501.4 370.2,501.9 370.6,502.3 371.0,502.8 373.7,506.1 376.4,509.4 379.2,512.6 381.9,515.8 384.6,519.0 387.3,522.2 390.0,525.3 392.8,528.4 395.5,531.5 398.2,534.6 400.9,537.7 403.6,540.7 406.4,543.7 409.1,546.7 411.8,549.7 414.5,552.6 417.2,555.5 420.0,558.4 422.7,561.3 425.4,564.2 428.1,567.0 430.8,569.8 433.6,572.6 436.3,575.4 439.0,578.1 441.7,580.9 444.4,583.6 447.2,586.3 449.9,589.0 452.6,591.6 455.3,594.3 458.0,596.9 460.8,599.5 463.5,602.1 466.2,604.6 468.9,607.2 471.6,609.7 474.4,612.2 477.1,614.7 479.8,617.2 482.5,619.6 485.2,622.1 488.0,624.5 490.7,626.9 493.4,629.3 496.1,631.7 498.8,634.0 501.6,636.4 504.3,638.7 507.0,641.0 509.7,643.3 512.4,645.6 515.2,647.8 517.9,650.1 520.6,652.3 523.3,654.5 526.0,656.7 528.8,658.9 531.5,661.1 534.2,663.2 536.9,665.4 539.6,667.5 542.3,669.6 545.1,671.7 547.8,673.8 550.5,675.8 553.2,677.9 555.9,679.9 558.7,681.9 561.4,683.9 564.1,685.9 566.8,687.9 569.5,689.9 572.3,691.9 575.0,693.8 577.7,695.7 580.4,697.6 583.1,699.5 585.9,701.4 588.6,703.3 591.3,705.2 594.0,707.0 596.7,708.9 599.5,710.7 602.2,712.5 604.9,714.3 607.6,716.1 610.3,717.9 613.1,719.7 615.8,721.4 618.5,723.2 621.2,724.9 623.9,726.7 626.7,728.4 629.4,730.1 632.1,731.8 634.8,733.4 637.5,735.1 640.3,736.8 643.0,738.4 645.7,740.1 648.4,741.7 651.1,743.3 653.9,744.9 656.6,746.5 659.3,748.1 662.0,749.7 664.7,751.2 667.5,752.8 670.2,754.3 672.9,755.9 675.6,757.4 678.3,758.9 681.1,760.4 683.8,761.9 686.5,763.4 689.2,764.9 691.9,766.4 694.7,767.8 697.4,769.3 700.1,770.7 702.8,772.2 705.5,773.6 708.3,775.0 711.0,776.4 713.7,777.8 716.4,779.2 719.1,780.6 721.9,782.0 724.6,783.3 727.3,784.7 730.0,786.0 732.7,787.4 735.5,788.7 738.2,790.0 740.9,791.4 743.6,792.7 746.3,794.0 749.1,795.3 751.8,796.6 754.5,797.8 757.2,799.1 759.9,800.4 762.7,801.6 765.4,802.9 768.1,804.1 770.8,805.3 773.5,806.6 776.3,807.8 779.0,809.0 781.7,810.2 784.4,811.4 787.1,812.6 789.9,813.8 792.6,815.0 795.3,816.1 798.0,817.3 800.7,818.5 803.5,819.6 806.2,820.7 808.9,821.9 811.6,823.0 814.3,824.1 817.1,825.3 819.8,826.4 822.5,827.5 825.2,828.6 827.9,829.7 830.7,830.7 833.4,831.8 836.1,832.9 838.8,834.0 841.5,835.0 844.3,836.1 847.0,837.1 849.7,838.2 852.4,839.2 855.1,840.3 857.9,841.3 860.6,842.3 863.3,843.3 866.0,844.3 868.7,845.3 871.5,846.3 874.2,847.3 876.9,848.3 879.6,849.3 882.3,850.3 885.0,851.2 887.8,852.2 890.5,853.2 893.2,854.1 895.9,855.1 898.6,856.0 901.4,857.0 904.1,857.9 906.8,858.8 909.5,859.8 912.2,860.7 915.0,861.6 917.7,862.5 920.4,863.4 923.1,864.3 925.8,865.2 928.6,866.1 931.3,867.0 934.0,867.9 936.7,868.8 939.4,869.6 942.2,870.5 944.9,871.4 947.6,872.2 950.3,873.1 953.0,873.9 955.8,874.8 958.5,875.6 961.2,876.5 963.9,877.3 966.6,878.1 969.4,879.0 972.1,879.8 974.8,880.6 977.5,881.4 980.2,882.2 983.0,883.0 985.7,883.8 988.4,884.6 991.1,885.4 993.8,886.2 996.6,887.0 999.3,887.8 1002.0,888.6 1004.7,889.3 1007.4,890.1 1010.2,890.9 1012.9,891.6 1015.6,892.4 1018.3,893.1 1021.0,893.9 1023.8,894.6 1026.5,895.4 1029.2,896.1 1031.9,896.9 1034.6,897.6 1037.4,898.3 1040.1,899.0 1042.8,899.8 1045.5,900.5 1048.2,901.2 1051.0,901.9 1053.7,902.6 1056.4,903.3 1059.1,904.0 1061.8,904.7 1064.6,905.4 1067.3,906.1 1070.0,906.8 1072.7,907.5 1075.4,908.2 1078.2,908.8 1080.9,909.5 1083.6,910.2 1086.3,910.9 1089.0,911.5 1091.8,912.2 1094.5,912.9 1097.2,913.5 1099.9,914.2 1102.6,914.8 1105.4,915.5 1108.1,916.1 1110.8,916.8 1113.5,917.4 1116.2,918.0 1119.0,918.7 1121.7,919.3 1124.4,919.9 1127.1,920.5 1129.8,921.2 1132.6,921.8 1135.3,922.4 1138.0,923.0 1140.7,923.6 1143.4,924.2 1146.2,924.8 1148.9,925.4 1151.6,926.0 1154.3,926.6 1157.0,927.2 1159.8,927.8 1162.5,928.4 1165.2,929.0 1167.9,929.6 1170.6,930.2 1173.4,930.7 1176.1,931.3 1178.8,931.9 1181.5,932.5 1184.2,933.0 1187.0,933.6 1189.7,934.2 1192.4,934.7 1195.1,935.3 1197.8,935.8 1200.6,936.4 1203.3,937.0 1206.0,937.5 1208.7,938.1 1211.4,938.6 1214.2,939.1 1216.9,939.7 1219.6,940.2 1222.3,940.8 1225.0,941.3 1227.7,941.8 1230.5,942.3 1233.2,942.9 1235.9,943.4 1238.6,943.9 1241.3,944.4 1244.1,945.0 1246.8,945.5 1249.5,946.0 1252.2,946.5 1254.9,947.0 1257.7,947.5 1260.4,948.0 1263.1,948.5 1265.8,949.0 1268.5,949.5 1271.3,950.0 1274.0,950.5 1276.7,951.0 1279.4,951.5 1282.1,952.0 1284.9,952.5 1287.6,953.0 1290.3,953.5 1293.0,953.9 1295.7,954.4 1298.5,954.9 1301.2,955.4 1303.9,955.8 1306.6,956.3 1309.3,956.8 1312.1,957.2 1314.8,957.7 1317.5,958.2 1320.2,958.6 1322.9,959.1 1325.7,959.6 1328.4,960.0 1331.1,960.5 1333.8,960.9 1336.5,961.4 1339.3,961.8 1342.0,962.3 1344.7,962.7 1347.4,963.2 1350.1,963.6 1352.9,964.1 1355.6,964.5 1358.3,964.9 1361.0,965.4 1363.7,965.8 1366.5,966.2 1369.2,966.7 1371.9,967.1 1374.6,967.5 1377.3,967.9 1380.1,968.4 1382.8,968.8 1385.5,969.2 1388.2,969.6 1390.9,970.1 1393.7,970.5 1396.4,970.9 1399.1,971.3 1401.8,971.7 1404.5,972.1 1407.3,972.5 1410.0,972.9 1412.7,973.3 1415.4,973.7 1418.1,974.2 1420.9,974.6 1423.6,975.0 1426.3,975.3 1429.0,975.7 1431.7,976.1 1434.5,976.5 1437.2,976.9 1439.9,977.3 1442.6,977.7 1445.3,978.1 1448.1,978.5 1450.8,978.9 1453.5,979.3 1456.2,979.6 1458.9,980.0 1461.7,980.4 1464.4,980.8 1467.1,981.2 1469.8,981.5 1472.5,981.9 1475.3,982.3 1478.0,982.6 1480.7,983.0 1483.4,983.4 1486.1,983.8 1488.9,984.1 1491.6,984.5 1494.3,984.8 1497.0,985.2 1499.7,985.6 1502.5,985.9 1505.2,986.3 1507.9,986.6 1510.6,987.0 1513.3,987.4 1516.1,987.7 1518.8,988.1 1521.5,988.4 1524.2,988.8 1526.9,989.1 1529.7,989.5 1532.4,989.8 1535.1,990.1 1537.8,990.5 1540.5,990.8 1543.3,991.2 1546.0,991.5 1548.7,991.9 1551.4,992.2 1554.1,992.5 1556.9,992.9 1559.6,993.2 1562.3,993.5 1565.0,993.9 1567.7,994.2 1570.4,994.5 1573.2,994.9 1575.9,995.2 1578.6,995.5 1581.3,995.8 1584.0,996.2 1586.8,996.5 1589.5,996.8 1592.2,997.1 1594.9,997.4 1597.6,997.8 1600.4,998.1 1603.1,998.4 1605.8,998.7 1608.5,999.0 1611.2,999.3 1614.0,999.6 1616.7,1000.0 1619.4,1000.3 1622.1,1000.6 1624.8,1000.9 1627.6,1001.2 1630.3,1001.5 1633.0,1001.8 1635.7,1002.1 1638.4,1002.4 1641.2,1002.7 1643.9,1003.0 1646.6,1003.3 1649.3,1003.6 1652.0,1003.9 1654.8,1004.2 1657.5,1004.5 1660.2,1004.8 1662.9,1005.1 1665.6,1005.4 1668.4,1005.7 1671.1,1006.0 1673.8,1006.3 1676.5,1006.5 1679.2,1006.8 1682.0,1007.1 1684.7,1007.4 1687.4,1007.7 1690.1,1008.0 1692.8,1008.3 1695.6,1008.5 1698.3,1008.8 1701.0,1009.1 1703.7,1009.4 1706.4,1009.7 1709.2,1009.9 1711.9,1010.2 1714.6,1010.5 1717.3,1010.8 1720.0,1011.0 1722.8,1011.3 1725.5,1011.6 1728.2,1011.9" fill="none" stroke="#000" stroke-width="4.0" stroke-dasharray="22.0 20.40" stroke-dashoffset="5.88"/>
<g clip-path="url(#pc)">
<rect x="206.50" y="1008.20" width="25.6" height="25.6"/>
<rect x="281.97" y="1014.70" width="25.6" height="25.6"/>
<rect x="357.44" y="1020.40" width="25.6" height="25.6"/>
<rect x="432.91" y="1026.50" width="25.6" height="25.6"/>
<rect x="508.38" y="1030.60" width="25.6" height="25.6"/>
<rect x="659.32" y="1039.20" width="25.6" height="25.6"/>
<rect x="810.26" y="1044.60" width="25.6" height="25.6"/>
<rect x="961.20" y="1049.90" width="25.6" height="25.6"/>
<rect x="1112.14" y="1054.50" width="25.6" height="25.6"/>
<rect x="1263.08" y="1058.10" width="25.6" height="25.6"/>
<rect x="1414.02" y="1062.50" width="25.6" height="25.6"/>
<rect x="1564.96" y="1066.50" width="25.6" height="25.6"/>
<rect x="1715.90" y="1069.70" width="25.6" height="25.6"/>
<circle cx="219.30" cy="336.60" r="14.3"/>
<circle cx="294.77" cy="650.40" r="14.3"/>
<circle cx="370.24" cy="824.50" r="14.3"/>
<circle cx="445.71" cy="940.90" r="14.3"/>
<circle cx="521.18" cy="992.60" r="14.3"/>
<circle cx="672.12" cy="1040.50" r="14.3"/>
<circle cx="823.06" cy="1085.90" r="14.3"/>
<circle cx="974.00" cy="1111.80" r="14.3"/>
<circle cx="1124.94" cy="1132.80" r="14.3"/>
<circle cx="1275.88" cy="1142.70" r="14.3"/>
<circle cx="1426.82" cy="1153.70" r="14.3"/>
<circle cx="1577.76" cy="1160.10" r="14.3"/>
<circle cx="1728.70" cy="1163.90" r="14.3"/>
<path d="M219.30,253.70L237.10,282.40L201.50,282.40Z"/>
<path d="M294.77,360.50L312.57,389.70L276.97,389.70Z"/>
<path d="M370.24,415.40L388.04,445.60L352.44,445.60Z"/>
<path d="M445.71,431.50L463.51,462.00L427.91,462.00Z"/>
<path d="M521.18,486.50L538.98,517.30L503.38,517.30Z"/>
<path d="M672.12,552.70L689.92,583.60L654.32,583.60Z"/>
<path d="M823.06,630.10L840.86,661.10L805.26,661.10Z"/>
<path d="M974.00,862.40L991.80,892.50L956.20,892.50Z"/>
<path d="M1124.94,902.00L1142.74,932.30L1107.14,932.30Z"/>
<path d="M1275.88,950.10L1293.68,979.50L1258.08,979.50Z"/>
<path d="M1426.82,982.90L1444.62,1012.60L1409.02,1012.60Z"/>
<path d="M1577.76,1001.80L1595.56,1031.20L1559.96,1031.20Z"/>
<path d="M1728.70,1015.00L1746.50,1044.70L1710.90,1044.70Z"/>
</g>
<path d="M220.4,61.8V1300.2M1728.6,1274.4V1300.2" stroke="#000" stroke-width="4.4" fill="none"/>
<path d="M193,1274.4H1730.8M193,61.8H222" stroke="#000" stroke-width="4.4" fill="none"/>
<path d="M220.40,1274.4V1300.20 M370.24,1274.4V1288.70 M521.18,1274.4V1300.20 M672.12,1274.4V1288.70 M823.06,1274.4V1300.20 M974.00,1274.4V1288.70 M1124.94,1274.4V1300.20 M1275.88,1274.4V1288.70 M1426.82,1274.4V1300.20 M1577.76,1274.4V1288.70 M1728.70,1274.4V1300.20 M193.00,1274.40H220.4 M205.60,1153.14H220.4 M193.00,1031.88H220.4 M205.60,910.62H220.4 M193.00,789.36H220.4 M205.60,668.10H220.4 M193.00,546.84H220.4 M205.60,425.58H220.4 M193.00,304.32H220.4 M205.60,183.06H220.4 M193.00,61.80H220.4" stroke="#000" stroke-width="4.4" fill="none"/>
<text x="153.06" y="1285.96" font-size="55.72" textLength="27.75" lengthAdjust="spacingAndGlyphs" >0</text>
<text x="154.01" y="1043.98" font-size="56.79" textLength="27.75" lengthAdjust="spacingAndGlyphs" >2</text>
<text x="151.82" y="801.46" font-size="57.13" textLength="27.75" lengthAdjust="spacingAndGlyphs" >4</text>
<text x="152.60" y="558.39" font-size="55.96" textLength="27.75" lengthAdjust="spacingAndGlyphs" >6</text>
<text x="153.06" y="315.88" font-size="55.72" textLength="27.75" lengthAdjust="spacingAndGlyphs" >8</text>
<text x="125.31" y="73.36" font-size="55.72" textLength="55.50" lengthAdjust="spacingAndGlyphs" >10</text>
<text x="205.43" y="1352.35" font-size="56.31" textLength="27.75" lengthAdjust="spacingAndGlyphs" >0</text>
<text x="507.62" y="1352.90" font-size="57.39" textLength="27.75" lengthAdjust="spacingAndGlyphs" >2</text>
<text x="809.08" y="1352.90" font-size="57.73" textLength="27.75" lengthAdjust="spacingAndGlyphs" >4</text>
<text x="1110.70" y="1352.35" font-size="56.56" textLength="27.75" lengthAdjust="spacingAndGlyphs" >6</text>
<text x="1412.94" y="1352.35" font-size="56.31" textLength="27.75" lengthAdjust="spacingAndGlyphs" >8</text>
<text x="1699.57" y="1352.35" font-size="56.31" textLength="55.50" lengthAdjust="spacingAndGlyphs" >10</text>
<text x="853.96" y="1479.20" font-size="66.30" textLength="145.02" lengthAdjust="spacingAndGlyphs" >Time</text>
<text x="1014.16" y="1479.20" font-size="66.30" textLength="78.09" lengthAdjust="spacingAndGlyphs" >(h)</text>
<rect x="1354.0" y="372.9" width="360.0" height="519.2" fill="none" stroke="#222" stroke-width="2.3"/>
<rect x="1425.2" y="410.2" width="26" height="26"/>
<path d="M1360.3,507H1516.5" stroke="#000" stroke-width="4.6"/>
<circle cx="1437.8" cy="590.4" r="14.3"/>
<path d="M1363.2,674.9H1516.5" stroke="#000" stroke-width="4.5" stroke-linecap="round" stroke-dasharray="0.8 24.2"/>
<path d="M1438,738.7L1456.2,769.3L1419.8,769.3Z"/>
<path d="M1359.7,842.5H1516.5" stroke="#000" stroke-width="4.2" stroke-dasharray="21.8 20.6"/>
<text x="1526.88" y="445.60" font-size="60.30" textLength="109.17" lengthAdjust="spacingAndGlyphs" >exp.</text>
<text x="1646.76" y="445.60" font-size="60.30" textLength="32.94" lengthAdjust="spacingAndGlyphs" >7</text>
<text x="1527.60" y="529.10" font-size="60.30" textLength="107.27" lengthAdjust="spacingAndGlyphs" >sim.</text>
<text x="1645.56" y="529.10" font-size="60.30" textLength="33.68" lengthAdjust="spacingAndGlyphs" >7</text>
<text x="1526.88" y="613.10" font-size="60.30" textLength="109.17" lengthAdjust="spacingAndGlyphs" >exp.</text>
<text x="1648.02" y="613.10" font-size="60.30" textLength="30.70" lengthAdjust="spacingAndGlyphs" >9</text>
<text x="1527.60" y="696.50" font-size="60.30" textLength="107.27" lengthAdjust="spacingAndGlyphs" >sim.</text>
<text x="1647.52" y="696.50" font-size="60.30" textLength="30.70" lengthAdjust="spacingAndGlyphs" >9</text>
<text x="1526.88" y="779.90" font-size="60.30" textLength="109.17" lengthAdjust="spacingAndGlyphs" >exp.</text>
<text x="1646.23" y="779.90" font-size="60.30" textLength="61.15" lengthAdjust="spacingAndGlyphs" >12</text>
<text x="1527.60" y="863.80" font-size="60.30" textLength="107.27" lengthAdjust="spacingAndGlyphs" >sim.</text>
<text x="1646.23" y="863.80" font-size="60.30" textLength="61.15" lengthAdjust="spacingAndGlyphs" >12</text>
<g transform="translate(70.2,889.7) rotate(-90)">
<text x="-0.07" y="0.00" font-size="64.50" textLength="50.58" lengthAdjust="spacingAndGlyphs" >w</text>
<text x="50.79" y="22.10" font-size="38.70" textLength="13.11" lengthAdjust="spacingAndGlyphs" >f</text>
<text x="65.04" y="0.00" font-size="64.50" textLength="18.67" lengthAdjust="spacingAndGlyphs" >(</text>
<text x="83.84" y="0.00" font-size="64.50" textLength="54.05" lengthAdjust="spacingAndGlyphs" >H</text>
<text x="136.09" y="22.10" font-size="38.70" textLength="21.70" lengthAdjust="spacingAndGlyphs" >2</text>
<text x="155.02" y="0.00" font-size="64.50" textLength="52.46" lengthAdjust="spacingAndGlyphs" >O</text>
<text x="206.46" y="0.00" font-size="64.50" textLength="20.10" lengthAdjust="spacingAndGlyphs" >)</text>
<text x="243.12" y="0.00" font-size="64.50" textLength="94.76" lengthAdjust="spacingAndGlyphs" >(%)</text>
</g>
</svg>
</body></html>
